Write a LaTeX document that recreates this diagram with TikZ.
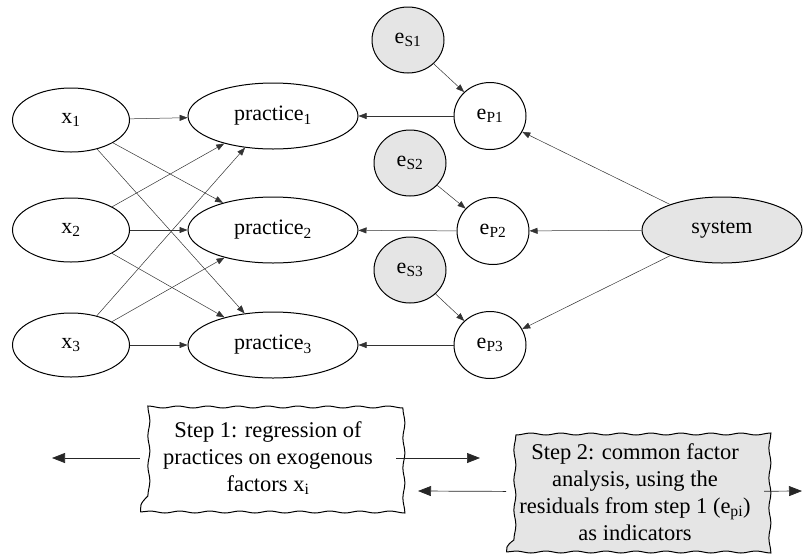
\documentclass[tikz,border=0pt]{standalone}
\usepackage{fontspec}
\setmainfont{Liberation Serif}
\usepackage{tikz}
\usetikzlibrary{shapes.geometric, arrows.meta, decorations.pathmorphing}
\tikzstyle{latent} = [ellipse, draw=black, line width=1pt, inner sep=0pt, font=\fontsize{22}{26}\selectfont]
\tikzstyle{exo} = [latent, minimum width=117pt, minimum height=64pt]
\tikzstyle{practice} = [latent, minimum width=170pt, minimum height=66pt]
\tikzstyle{resid} = [latent, minimum width=72pt, minimum height=67pt]
\tikzstyle{shock} = [latent, fill=black!10, minimum width=72pt, minimum height=66pt]
\tikzstyle{stepbox} = [rectangle, draw=black, line width=1pt, decorate, decoration={snake, segment length=30pt, amplitude=1pt}, align=center, inner sep=0pt, font=\fontsize{22.5}{27}\selectfont]
\tikzstyle{arrow} = [line width=0.5pt, draw=black!80, -{Triangle[length=8pt,width=6pt]}]
\tikzstyle{bigarrow} = [line width=0.7pt, draw=black!85, -{Triangle[length=13pt,width=10pt]}]

\begin{document}
\begin{tikzpicture}[x=1pt, y=-1pt]
    \useasboundingbox (0,0) rectangle (803,555);
    % Nodes
    \node[exo] (x1) at (71,120) {x\textsubscript{1}};
    \node[exo] (x2) at (71,230) {x\textsubscript{2}};
    \node[exo] (x3) at (71,345) {x\textsubscript{3}};
    \node[practice] (p1) at (273,116) {practice\textsubscript{1}};
    \node[practice] (p2) at (273,230) {practice\textsubscript{2}};
    \node[practice] (p3) at (273,345) {practice\textsubscript{3}};
    \node[resid] (ep1) at (490,116) {e\textsubscript{P1}};
    \node[resid] (ep2) at (493,231) {e\textsubscript{P2}};
    \node[resid] (ep3) at (490,345) {e\textsubscript{P3}};
    \node[shock] (es1) at (408,40) {e\textsubscript{S1}};
    \node[shock] (es2) at (410,163) {e\textsubscript{S2}};
    \node[shock] (es3) at (410,270) {e\textsubscript{S3}};
    \node[latent, fill=black!10, minimum width=160pt, minimum height=66pt] (system) at (722,230) {system};

    \node[stepbox, minimum width=255pt, minimum height=108pt] (step1) at (268,458)
        {Step 1: regression of\\practices on exogenous\\factors x\textsubscript{i}};
    \node[stepbox, fill=black!10, minimum width=257pt, minimum height=120pt] (step2) at (635,492)
        {Step 2: common factor\\analysis, using the\\residuals from step 1 (e\textsubscript{pi})\\as indicators};
    \coordinate (l1) at (52,458);
    \coordinate (r1) at (480,458);
    \coordinate (l2) at (418,491);
    \coordinate (r2) at (802,491);

    % Arrows
    \foreach \i in {1,2,3} {
        \foreach \j in {1,2,3} {
            \draw[arrow] (x\i) -- (p\j);
        }
        \draw[arrow] (ep\i) -- (p\i);
        \draw[arrow] (es\i) -- (ep\i);
        \draw[arrow] (system) -- (ep\i);
    }

    % Steps
    \draw[bigarrow] (step1) -- (l1);
    \draw[bigarrow] (step1) -- (r1);
    \draw[bigarrow] (step2) -- (l2);
    \draw[bigarrow] (step2) -- (r2);
\end{tikzpicture}
\end{document}
